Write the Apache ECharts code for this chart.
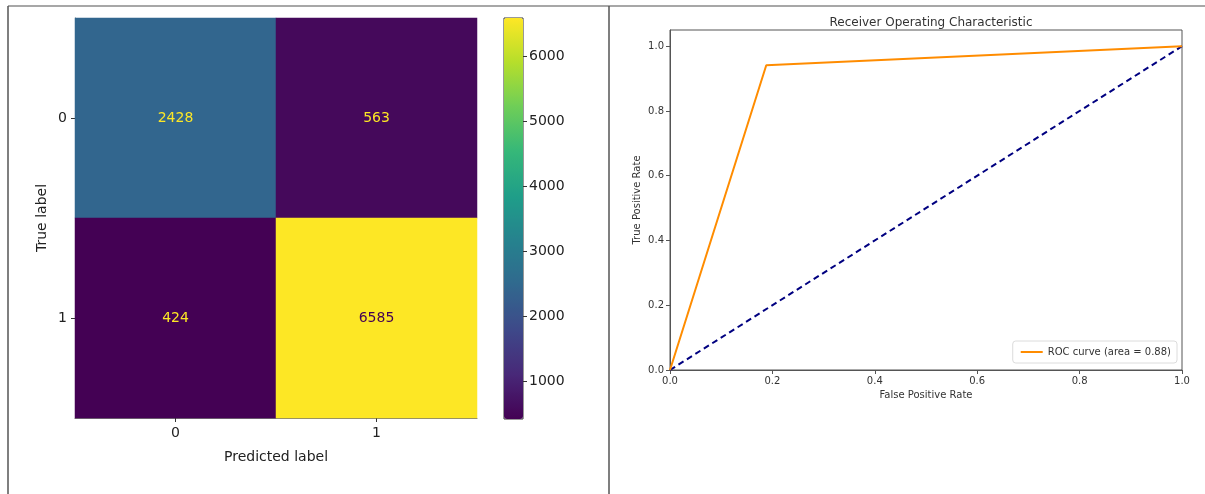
<!DOCTYPE html>
<html><head><meta charset="utf-8">
<script src="https://cdn.jsdelivr.net/npm/echarts@6/dist/echarts.min.js"></script>
<style>html,body{margin:0;padding:0;background:#fff}#c{width:1205px;height:494px}</style>
</head><body><div id="c"></div>
<script>
// ---- data ----
const classLabels = ['0', '1'];
const cmRow0 = [2428, 563];   // true label 0: predicted 0, predicted 1
const cmRow1 = [424, 6585];   // true label 1: predicted 0, predicted 1
const colorbarTicks = [1000, 2000, 3000, 4000, 5000, 6000];
const rocFpr = [0, 0.188, 1];
const rocTpr = [0, 0.941, 1];
const diagX = [0, 1];
const diagY = [0, 1];
const rocTicks = [0, 0.2, 0.4, 0.6, 0.8, 1.0];
const rocLegend = 'ROC curve (area = 0.88)';

const viridis = ['#440154','#482878','#3e4989','#31688e','#26828e','#1f9e89','#35b779','#6ece58','#b5de2b','#fde725'];
const rows = [cmRow0, cmRow1];
const heatData = [];
rows.forEach((r, yi) => r.forEach((v, xi) => heatData.push([xi, yi, v])));
const all = heatData.map(d => d[2]);
const vmin = Math.min(...all), vmax = Math.max(...all);
const mid = (vmin + vmax) / 2;

const FONT = 'DejaVu Sans';
const chart = echarts.init(document.getElementById('c'), null, {renderer: 'canvas'});
chart.setOption({
  backgroundColor: '#fff',
  animation: false,
  textStyle: {fontFamily: FONT},
  title: {
    text: 'Receiver Operating Characteristic', left: 926, top: 12, textAlign: 'center',
    textStyle: {fontFamily: FONT, fontSize: 12, fontWeight: 'normal', color: '#333'}
  },
  legend: {
    data: [{name: rocLegend, icon: 'rect'}], right: 28, bottom: 131, orient: 'vertical',
    itemWidth: 22, itemHeight: 2, padding: [6, 6, 6, 8], itemGap: 6,
    backgroundColor: '#fff', borderColor: '#dcdcdc', borderWidth: 1, borderRadius: 3,
    textStyle: {fontFamily: FONT, fontSize: 10, color: '#333'}
  },
  visualMap: {
    type: 'continuous', seriesIndex: 0, min: vmin, max: vmax,
    left: 504, top: 18, itemWidth: 19, itemHeight: 401, padding: 0,
    calculable: false, hoverLink: false, showLabel: false,
    inRange: {color: viridis}
  },
  grid: [
    {left: 75, top: 18, width: 402, height: 400, show: false},
    {left: 670, right: 23, top: 30, bottom: 124, show: true, borderColor: '#555', borderWidth: 1, backgroundColor: 'transparent'},
    {left: 504, top: 18, width: 19, height: 401, show: true, borderColor: '#333', borderWidth: 1, backgroundColor: 'transparent'}
  ],
  xAxis: [
    {gridIndex: 0, type: 'category', data: classLabels,
     name: 'Predicted label', nameLocation: 'middle', nameGap: 32,
     nameTextStyle: {fontFamily: FONT, fontSize: 14, color: '#222'},
     axisLine: {show: true, lineStyle: {color: '#777', width: 1}},
     axisTick: {show: true, alignWithLabel: true, length: 4, lineStyle: {color: '#333'}},
     axisLabel: {fontFamily: FONT, fontSize: 14, color: '#222', margin: 8},
     splitLine: {show: false}},
    {gridIndex: 1, type: 'value', min: 0, max: 1,
     name: 'False Positive Rate', nameLocation: 'middle', nameGap: 20,
     nameTextStyle: {fontFamily: FONT, fontSize: 10, color: '#333'},
     axisLine: {show: true, onZero: false, lineStyle: {color: '#555'}},
     axisTick: {show: true, length: 4, customValues: rocTicks, lineStyle: {color: '#555'}},
     axisLabel: {fontFamily: FONT, fontSize: 10, color: '#333', margin: 6, customValues: rocTicks, formatter: v => v.toFixed(1)},
     splitLine: {show: false}},
    {gridIndex: 2, type: 'category', data: [''], show: false}
  ],
  yAxis: [
    {gridIndex: 0, type: 'category', data: classLabels, inverse: true,
     name: 'True label', nameLocation: 'middle', nameGap: 26, nameRotate: 90,
     nameTextStyle: {fontFamily: FONT, fontSize: 14, color: '#222'},
     axisLine: {show: true, lineStyle: {color: '#777', width: 1}},
     axisTick: {show: true, alignWithLabel: true, length: 4, lineStyle: {color: '#333'}},
     axisLabel: {fontFamily: FONT, fontSize: 14, color: '#222', margin: 8},
     splitLine: {show: false}},
    {gridIndex: 1, type: 'value', min: 0, max: 1.05,
     name: 'True Positive Rate', nameLocation: 'middle', nameGap: 28,
     nameTextStyle: {fontFamily: FONT, fontSize: 10, color: '#333'},
     axisLine: {show: true, onZero: false, lineStyle: {color: '#555'}},
     axisTick: {show: true, length: 4, customValues: rocTicks, lineStyle: {color: '#555'}},
     axisLabel: {fontFamily: FONT, fontSize: 10, color: '#333', margin: 6, customValues: rocTicks, formatter: v => v.toFixed(1)},
     splitLine: {show: false}},
    {gridIndex: 2, type: 'value', min: vmin, max: vmax, position: 'right',
     axisLine: {show: false},
     axisTick: {show: true, length: 4, customValues: colorbarTicks, lineStyle: {color: '#333'}},
     axisLabel: {fontFamily: FONT, fontSize: 14, color: '#222', margin: 6, customValues: colorbarTicks, formatter: v => String(v)},
     splitLine: {show: false}}
  ],
  series: [
    {type: 'heatmap', xAxisIndex: 0, yAxisIndex: 0,
     data: heatData.map(d => ({value: d, label: {color: d[2] < mid ? viridis[9] : viridis[0]}})),
     label: {show: true, fontFamily: FONT, fontSize: 14, formatter: p => String(p.value[2])},
     itemStyle: {borderWidth: 0},
     emphasis: {disabled: true}},
    {type: 'line', name: rocLegend, xAxisIndex: 1, yAxisIndex: 1,
     data: rocFpr.map((x, i) => [x, rocTpr[i]]), symbol: 'none',
     lineStyle: {color: '#ff8c00', width: 2}, itemStyle: {color: '#ff8c00'}, z: 3},
    {type: 'line', name: 'diag', xAxisIndex: 1, yAxisIndex: 1,
     data: diagX.map((x, i) => [x, diagY[i]]), symbol: 'none',
     lineStyle: {color: '#000080', width: 2, type: [6, 4]}, itemStyle: {color: '#000080'}, z: 2}
  ],
  graphic: [
    {type: 'line', shape: {x1: 8, y1: 6, x2: 1205, y2: 6}, style: {stroke: '#8a8a8a', lineWidth: 1.5}},
    {type: 'line', shape: {x1: 8, y1: 6, x2: 8, y2: 494}, style: {stroke: '#555', lineWidth: 1.5}},
    {type: 'line', shape: {x1: 609, y1: 6, x2: 609, y2: 494}, style: {stroke: '#555', lineWidth: 1.5}}
  ]
});
</script></body></html>
